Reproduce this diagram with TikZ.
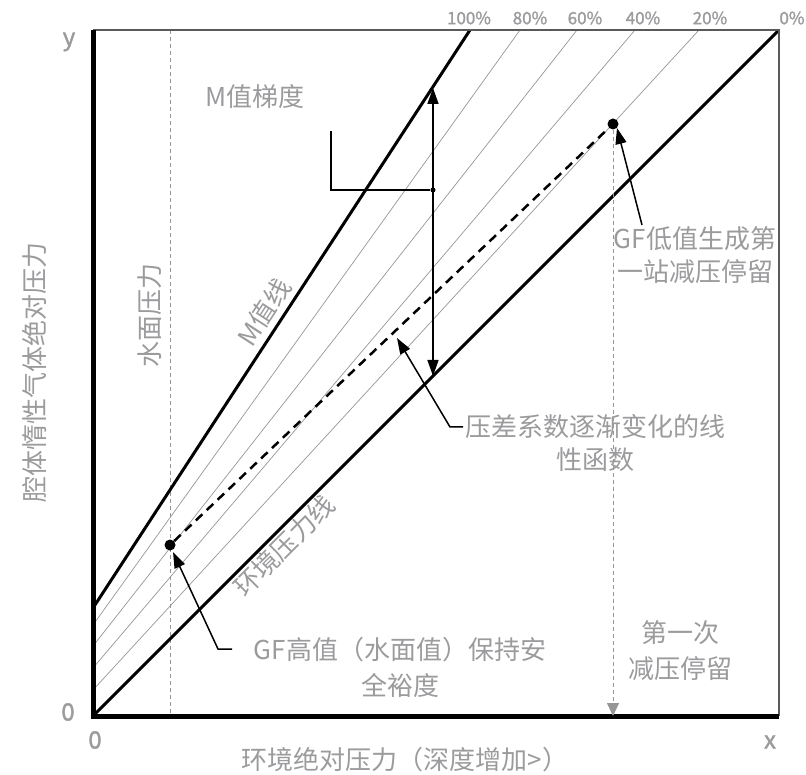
\documentclass[tikz,border=0pt]{standalone}
\usepackage{fontspec}
\setmainfont{Noto Sans CJK SC}
\newfontfamily\boldnum[FakeBold=1.5]{Noto Sans CJK SC}
\usetikzlibrary{arrows.meta}
\definecolor{txtgray}{RGB}{155,155,158}
\definecolor{linegray}{RGB}{150,150,150}
\definecolor{framegray}{RGB}{90,90,90}
\begin{document}
\begin{tikzpicture}[x=1pt,y=-1pt,
  lbl/.style={text=txtgray, font=\fontsize{26}{33}\selectfont, align=center, inner sep=0pt},
  pct/.style={text=txtgray, font=\boldnum\fontsize{17}{17}\selectfont, inner sep=0pt},
  axnum/.style={text=txtgray, font=\boldnum\fontsize{24}{24}\selectfont, inner sep=0pt},
  axisline/.style={line width=5pt, line join=miter},
  frameline/.style={line width=1.5pt, draw=framegray},
  boldline/.style={line width=3pt},
  gfline/.style={line width=0.7pt, draw=linegray},
  pointer/.style={line width=1.5pt, -{Triangle[length=16pt,width=11pt]}},
  guide/.style={line width=0.8pt, draw=linegray, dash pattern=on 4pt off 3pt},
  dotnode/.style={circle, fill=black, inner sep=0pt, minimum size=11pt},
]
\useasboundingbox (0,0) rectangle (806,775);
% coordinates
\coordinate (O) at (93,716);
\coordinate (TL) at (93,30);
\coordinate (TR) at (779,30);
\coordinate (BR) at (779,716);
\coordinate (m0) at (93,608);   \coordinate (m1) at (470,30);
\coordinate (g80a) at (93,625); \coordinate (g80b) at (520,30);
\coordinate (g60a) at (93,646); \coordinate (g60b) at (577,30);
\coordinate (g40a) at (93,668); \coordinate (g40b) at (635,30);
\coordinate (g20a) at (93,690); \coordinate (g20b) at (699,30);
\coordinate (s0) at (170,30);   \coordinate (s1) at (170,716);
% guide line (surface pressure)
\draw[guide] (s0) -- (s1);
% gradient lines
\draw[gfline] (g80a) -- (g80b);
\draw[gfline] (g60a) -- (g60b);
\draw[gfline] (g40a) -- (g40b);
\draw[gfline] (g20a) -- (g20b);
% M-value line and ambient line
\draw[boldline] (m0) -- (m1);
\draw[boldline] (O) -- (TR);
% frame
\draw[frameline] (TL) -- (TR) -- (BR);
\draw[axisline] (TL) -- (O) -- (BR);
% dots and GF line
\node[dotnode] (hi) at (170,545) {};
\node[dotnode] (lo) at (613,124) {};
\draw[line width=2.5pt, dash pattern=on 9pt off 6pt] (hi) -- (lo);
% first stop drop
\coordinate (stop) at (613,716);
\draw[guide, -{Triangle[length=13pt,width=12pt,fill=linegray]}] (lo) -- (stop);
% M gradient double arrow
\coordinate (ga) at (433,376);
\coordinate (gb) at (433,88);
\draw[line width=1.5pt, {Triangle[length=16pt,width=11pt]}-{Triangle[length=16pt,width=11pt]}] (ga) -- (gb);
\node[circle, fill=black, inner sep=0pt, minimum size=5pt] (gm) at (433,190) {};
\coordinate (bk1) at (331,190);
\coordinate (bk2) at (331,131);
\draw[line width=1.3pt] (gm) -- (bk1) -- (bk2);
% labels
\node[axnum] (ylab) at (69,42) {y};
\node[axnum] (zy) at (68,712) {0};
\node[axnum] (zx) at (95,740) {0};
\node[axnum] (xlab) at (770,742) {x};
\node[pct] (p100) at (469,18) {100\%};
\node[pct] (p80) at (530,18) {80\%};
\node[pct] (p60) at (585,18) {60\%};
\node[pct] (p40) at (643,18) {40\%};
\node[pct] (p20) at (710,18) {20\%};
\node[pct] (p0) at (792,18) {0\%};
\node[lbl] (mgrad) at (255,97) {M值梯度};
\node[lbl, rotate=90] (surf) at (150,316) {水面压力};
\node[lbl, rotate=57] (mlab) at (264,312) {M值线};
\node[lbl, rotate=45] (amb) at (284,546) {环境压力线};
\node[lbl, rotate=90] (yax) at (35,372) {腔体惰性气体绝对压力};
\node[lbl] (xax) at (405,760) {环境绝对压力（深度增加>）};
\node[lbl] (lowtxt) at (695,255.5) {GF低值生成第\\一站减压停留};
\node[lbl] (lintxt) at (595,443.5) {压差系数逐渐变化的线\\性函数};
\node[lbl, font=\fontsize{26}{36}\selectfont] (hitxt) at (400,667) {GF高值（水面值）保持安\\全裕度};
\node[lbl, font=\fontsize{26}{36}\selectfont] (stoptxt) at (680,651) {第一次\\减压停留};
% pointers
\coordinate (lowa) at (642,225);
\coordinate (lowtip) at (617,128);
\draw[pointer] (lowa) -- (lowtip);
\coordinate (lina) at (463,427);
\coordinate (linb) at (450,427);
\coordinate (lintip) at (397,338);
\draw[pointer] (lina) -- (linb) -- (lintip);
\coordinate (hia) at (232,649);
\coordinate (hib) at (218,649);
\coordinate (hitip) at (173,552);
\draw[pointer] (hia) -- (hib) -- (hitip);
\end{tikzpicture}
\end{document}
